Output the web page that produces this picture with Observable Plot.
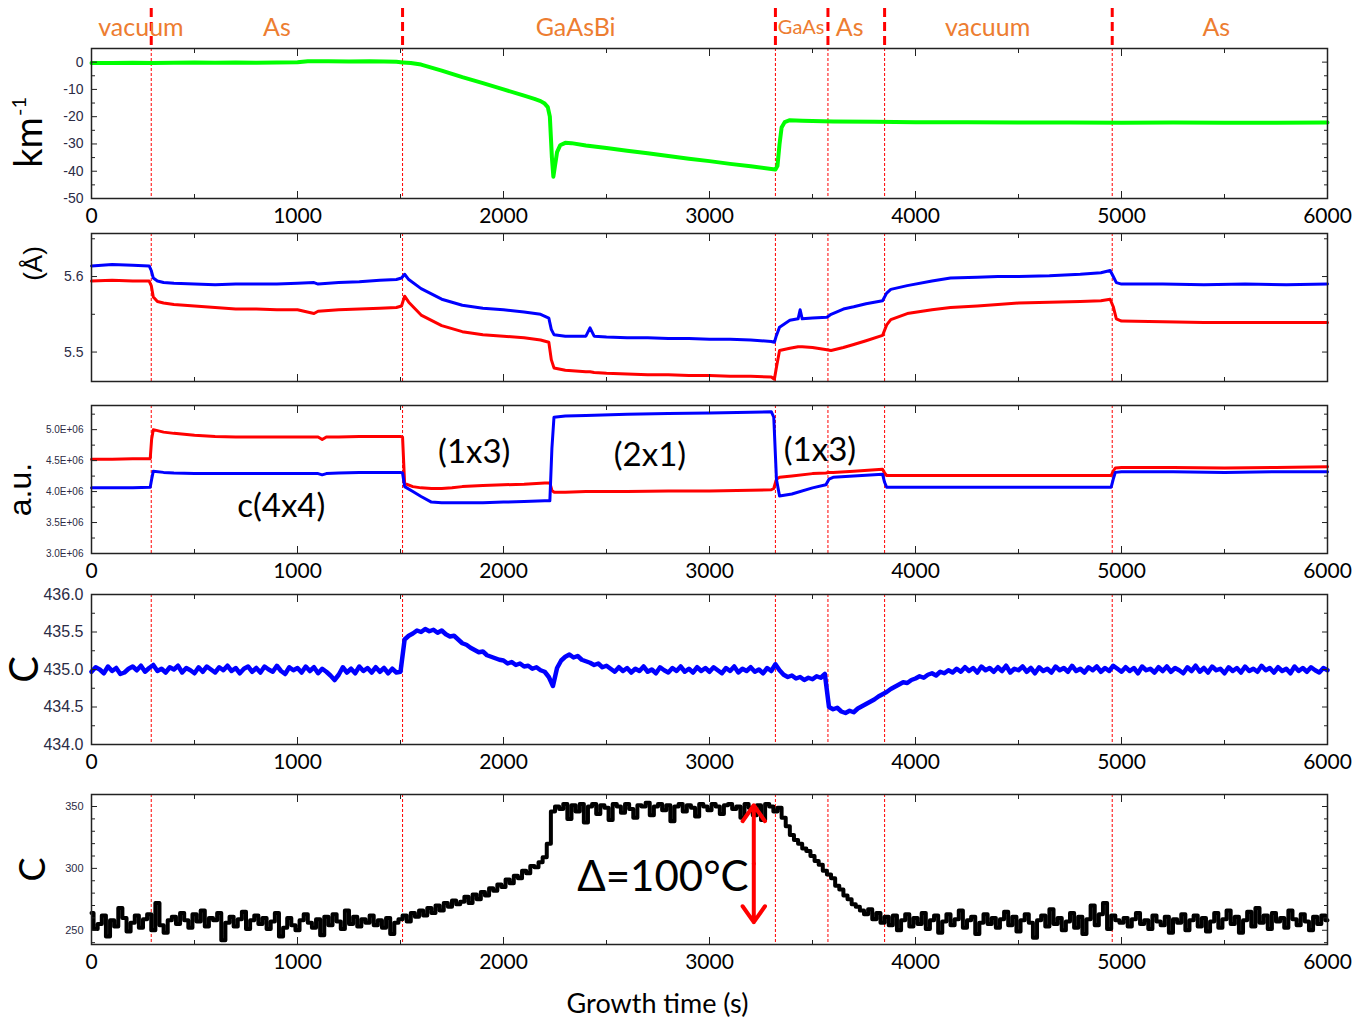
<!DOCTYPE html>
<html>
<head>
<meta charset="utf-8">
<script src="https://cdn.jsdelivr.net/npm/d3@7"></script>
<script src="https://cdn.jsdelivr.net/npm/@observablehq/plot@0.6"></script>
<style>
  body { margin: 0; background: #fff; }
  #chart { position: relative; width: 1353px; height: 1018px; overflow: hidden; }
  #chart svg { position: absolute; left: 0; overflow: visible; }
</style>
</head>
<body>
<div id="chart"></div>
<script>
// ---------------- DATA ----------------
const eventTimes = [290, 1510, 3320, 3575, 3850, 4955];
const phaseNames = ["vacuum", "As", "GaAsBi", "As", "vacuum", "As"];
const phaseCenters = [240, 900, 2350, 3680, 4350, 5460];
const smallPhaseNames = ["GaAs"];
const smallPhaseCenters = [3445];

const xMajorTicks = [0, 1000, 2000, 3000, 4000, 5000, 6000];
const xMinorTicks = [500, 1500, 2500, 3500, 4500, 5500];

// Panel 1: km^-1 (green)
const kmTime = [0, 100, 200, 300, 400, 500, 600, 700, 800, 900,
  1000, 1050, 1150, 1250, 1350, 1420, 1480, 1510, 1550, 1600,
  1650, 1700, 1750, 1800, 1850, 1900, 2000, 2100, 2150, 2180,
  2200, 2215, 2225, 2235, 2242, 2250, 2260, 2275, 2300, 2330,
  2400, 2500, 2600, 2700, 2800, 2900, 3000, 3100, 3200, 3300,
  3320, 3330, 3340, 3350, 3365, 3390, 3450, 3500, 3600, 3800,
  4000, 4250, 4500, 4750, 5000, 5250, 5500, 5750, 6000];
const kmValue = [-0.3, -0.3, -0.2, -0.3, -0.2, -0.1, -0.2, -0.1, -0.2, -0.1,
  0.0, 0.3, 0.3, 0.2, 0.3, 0.2, 0.1, -0.1, -0.3, -0.9,
  -2.0, -3.1, -4.3, -5.5, -6.6, -7.7, -10.0, -12.3, -13.5, -14.3,
  -15.2, -16.5, -20, -35, -42, -38, -33, -30.5, -29.6, -29.7,
  -30.6, -31.5, -32.5, -33.4, -34.4, -35.4, -36.3, -37.3, -38.2, -39.2,
  -39.4, -38, -30, -24, -22, -21.3, -21.5, -21.6, -21.8, -21.9,
  -22.0, -22.0, -22.1, -22.1, -22.2, -22.1, -22.2, -22.2, -22.1];
const kmTicks = [0, -10, -20, -30, -40, -50];
const kmMinorTicks = [-5, -15, -25, -35, -45];

// Panel 2: lattice spacing (Å), blue and red
const abTime = [0, 100, 200, 280, 290, 300, 320, 350, 400, 500,
  600, 700, 800, 900, 1000, 1080, 1100, 1200, 1300, 1400,
  1480, 1505, 1520, 1540, 1600, 1700, 1800, 1900, 2000, 2100,
  2180, 2220, 2232, 2245, 2300, 2400, 2420, 2440, 2500, 2600,
  2700, 2800, 2900, 3000, 3100, 3200, 3300, 3315, 3325, 3340,
  3390, 3430, 3440, 3450, 3500, 3570, 3590, 3650, 3700, 3760,
  3840, 3860, 3880, 3960, 4080, 4170, 4300, 4400, 4500, 4650,
  4800, 4900, 4945, 4960, 4975, 5000, 5200, 5400, 5600, 5800,
  6000];
const abBlue = [5.614, 5.616, 5.615, 5.614, 5.608, 5.598, 5.594, 5.592, 5.591, 5.590,
  5.589, 5.590, 5.590, 5.590, 5.591, 5.592, 5.590, 5.592, 5.593, 5.595,
  5.596, 5.598, 5.603, 5.596, 5.584, 5.570, 5.562, 5.558, 5.556, 5.553,
  5.550, 5.545, 5.530, 5.523, 5.521, 5.521, 5.532, 5.521, 5.520, 5.519,
  5.519, 5.518, 5.518, 5.517, 5.517, 5.516, 5.514, 5.513, 5.522, 5.533,
  5.542, 5.544, 5.556, 5.544, 5.545, 5.546, 5.550, 5.557, 5.560, 5.564,
  5.568, 5.578, 5.583, 5.588, 5.594, 5.598, 5.599, 5.600, 5.600, 5.601,
  5.603, 5.605, 5.608, 5.600, 5.592, 5.590, 5.590, 5.589, 5.590, 5.589,
  5.590];
const abRed = [5.594, 5.595, 5.594, 5.594, 5.588, 5.573, 5.567, 5.565, 5.563, 5.561,
  5.559, 5.557, 5.557, 5.556, 5.556, 5.551, 5.554, 5.556, 5.557, 5.558,
  5.559, 5.561, 5.574, 5.566, 5.549, 5.535, 5.527, 5.523, 5.521, 5.519,
  5.516, 5.513, 5.490, 5.479, 5.476, 5.474, 5.474, 5.473, 5.472, 5.471,
  5.470, 5.470, 5.469, 5.469, 5.468, 5.468, 5.467, 5.464, 5.480, 5.502,
  5.505, 5.507, 5.507, 5.507, 5.506, 5.503, 5.502, 5.506, 5.510, 5.515,
  5.522, 5.536, 5.543, 5.551, 5.556, 5.559, 5.561, 5.563, 5.565, 5.566,
  5.567, 5.568, 5.570, 5.560, 5.544, 5.541, 5.540, 5.539, 5.539, 5.539,
  5.539];
const abTicks = [5.5, 5.6];
const abMinorTicks = [5.55, 5.65];

// Panel 3: intensity (a.u., in units of 1E+06), red and blue
const auTime = [0, 100, 200, 285, 292, 300, 350, 400, 500, 600,
  700, 800, 900, 1000, 1100, 1120, 1140, 1200, 1300, 1400,
  1500, 1510, 1520, 1560, 1600, 1650, 1700, 1750, 1800, 1900,
  2000, 2100, 2200, 2225, 2235, 2245, 2300, 2400, 2600, 2800,
  3000, 3200, 3300, 3312, 3325, 3340, 3400, 3500, 3565, 3580,
  3600, 3700, 3840, 3850, 3860, 3900, 4200, 4500, 4800, 4950,
  4960, 4970, 5000, 5250, 5500, 5750, 6000];
const auRed = [4.52, 4.52, 4.53, 4.53, 4.85, 5.00, 4.96, 4.94, 4.91, 4.89,
  4.88, 4.88, 4.88, 4.88, 4.88, 4.84, 4.88, 4.88, 4.89, 4.89,
  4.89, 4.88, 4.13, 4.08, 4.06, 4.05, 4.05, 4.06, 4.08, 4.10,
  4.11, 4.12, 4.14, 4.14, 4.02, 3.99, 3.99, 4.00, 4.00, 4.01,
  4.01, 4.02, 4.03, 4.05, 4.20, 4.23, 4.25, 4.29, 4.30, 4.31,
  4.31, 4.33, 4.36, 4.30, 4.26, 4.26, 4.26, 4.26, 4.26, 4.26,
  4.33, 4.38, 4.39, 4.39, 4.38, 4.39, 4.40];
const auBlue = [4.06, 4.06, 4.06, 4.07, 4.20, 4.33, 4.31, 4.30, 4.29, 4.29,
  4.29, 4.29, 4.29, 4.29, 4.29, 4.27, 4.29, 4.30, 4.31, 4.31,
  4.31, 4.30, 4.08, 4.00, 3.92, 3.83, 3.82, 3.82, 3.82, 3.82,
  3.83, 3.84, 3.85, 3.85, 4.70, 5.20, 5.22, 5.23, 5.25, 5.26,
  5.27, 5.28, 5.29, 5.20, 4.20, 3.93, 3.96, 4.06, 4.11, 4.20,
  4.23, 4.25, 4.28, 4.15, 4.07, 4.07, 4.07, 4.07, 4.07, 4.07,
  4.20, 4.31, 4.32, 4.32, 4.31, 4.32, 4.32];
const auTicks = [3.0, 3.5, 4.0, 4.5, 5.0];
const auMinorTicks = [3.25, 3.75, 4.25, 4.75, 5.25];
const structNames = ["(1x3)", "(2x1)", "(1x3)", "c(4x4)"];
const structTimes = [1858, 2711, 3536, 921];
const structLevels = [4.63, 4.58, 4.66, 3.76];

// Panels 4 and 5 share the sampling times (every 20 s)
const sampleTimes = [
  0, 20, 40, 60, 80, 100, 120, 140, 160, 180,
  200, 220, 240, 260, 280, 300, 320, 340, 360, 380,
  400, 420, 440, 460, 480, 500, 520, 540, 560, 580,
  600, 620, 640, 660, 680, 700, 720, 740, 760, 780,
  800, 820, 840, 860, 880, 900, 920, 940, 960, 980,
  1000, 1020, 1040, 1060, 1080, 1100, 1120, 1140, 1160, 1180,
  1200, 1220, 1240, 1260, 1280, 1300, 1320, 1340, 1360, 1380,
  1400, 1420, 1440, 1460, 1480, 1500, 1520, 1540, 1560, 1580,
  1600, 1620, 1640, 1660, 1680, 1700, 1720, 1740, 1760, 1780,
  1800, 1820, 1840, 1860, 1880, 1900, 1920, 1940, 1960, 1980,
  2000, 2020, 2040, 2060, 2080, 2100, 2120, 2140, 2160, 2180,
  2200, 2220, 2240, 2260, 2280, 2300, 2320, 2340, 2360, 2380,
  2400, 2420, 2440, 2460, 2480, 2500, 2520, 2540, 2560, 2580,
  2600, 2620, 2640, 2660, 2680, 2700, 2720, 2740, 2760, 2780,
  2800, 2820, 2840, 2860, 2880, 2900, 2920, 2940, 2960, 2980,
  3000, 3020, 3040, 3060, 3080, 3100, 3120, 3140, 3160, 3180,
  3200, 3220, 3240, 3260, 3280, 3300, 3320, 3340, 3360, 3380,
  3400, 3420, 3440, 3460, 3480, 3500, 3520, 3540, 3560, 3580,
  3600, 3620, 3640, 3660, 3680, 3700, 3720, 3740, 3760, 3780,
  3800, 3820, 3840, 3860, 3880, 3900, 3920, 3940, 3960, 3980,
  4000, 4020, 4040, 4060, 4080, 4100, 4120, 4140, 4160, 4180,
  4200, 4220, 4240, 4260, 4280, 4300, 4320, 4340, 4360, 4380,
  4400, 4420, 4440, 4460, 4480, 4500, 4520, 4540, 4560, 4580,
  4600, 4620, 4640, 4660, 4680, 4700, 4720, 4740, 4760, 4780,
  4800, 4820, 4840, 4860, 4880, 4900, 4920, 4940, 4960, 4980,
  5000, 5020, 5040, 5060, 5080, 5100, 5120, 5140, 5160, 5180,
  5200, 5220, 5240, 5260, 5280, 5300, 5320, 5340, 5360, 5380,
  5400, 5420, 5440, 5460, 5480, 5500, 5520, 5540, 5560, 5580,
  5600, 5620, 5640, 5660, 5680, 5700, 5720, 5740, 5760, 5780,
  5800, 5820, 5840, 5860, 5880, 5900, 5920, 5940, 5960, 5980,
  6000];

// Panel 4: thermocouple temperature (C), blue
const tcValue = [
  434.97, 435.03, 435.00, 434.95, 435.04, 434.98, 435.02, 434.94, 434.96, 435.01,
  435.04, 434.99, 435.05, 434.97, 435.02, 435.06, 434.98, 435.01, 434.96, 435.03,
  435.00, 435.05, 434.96, 435.02, 434.99, 434.95, 435.03, 434.97, 435.04, 435.00,
  434.96, 435.03, 434.99, 435.05, 434.98, 435.02, 434.95, 435.01, 435.04, 434.97,
  435.02, 434.96, 435.04, 435.00, 434.97, 435.05, 434.98, 434.94, 435.03, 434.99,
  435.02, 434.96, 435.04, 434.98, 435.03, 434.95, 435.01, 434.97, 434.92, 434.86,
  434.93, 435.03, 434.96, 435.01, 434.95, 435.04, 434.98, 435.02, 434.96, 435.03,
  434.97, 435.02, 434.95, 435.01, 434.96, 434.97, 435.40, 435.45, 435.48, 435.52,
  435.50, 435.54, 435.51, 435.53, 435.49, 435.52, 435.47, 435.44, 435.45, 435.40,
  435.35, 435.33, 435.29, 435.26, 435.23, 435.24, 435.19, 435.17, 435.15, 435.13,
  435.12, 435.08, 435.10, 435.06, 435.08, 435.04, 435.05, 435.01, 435.03, 434.99,
  434.97, 434.90, 434.78, 435.02, 435.12, 435.17, 435.20, 435.16, 435.18, 435.13,
  435.11, 435.09, 435.06, 435.08, 435.03, 435.05, 435.01, 434.97, 435.03, 434.98,
  435.02, 434.96, 435.01, 434.98, 435.04, 434.97, 435.00, 434.95, 435.03, 434.99,
  434.96, 435.02, 434.98, 435.04, 434.97, 435.01, 434.96, 435.03, 434.98, 435.02,
  434.97, 435.03, 434.99, 434.95, 435.02, 434.98, 435.04, 434.96, 435.01, 434.98,
  435.03, 434.97, 435.00, 434.95, 435.02, 434.98, 435.07, 434.99, 434.93, 434.90,
  434.92, 434.88, 434.90, 434.86, 434.89, 434.87, 434.91, 434.89, 434.94, 434.50,
  434.47, 434.49, 434.44, 434.42, 434.45, 434.43, 434.48, 434.51, 434.54, 434.57,
  434.60, 434.64, 434.67, 434.70, 434.74, 434.77, 434.80, 434.83, 434.82, 434.86,
  434.88, 434.91, 434.89, 434.93, 434.95, 434.92, 434.97, 434.95, 434.99, 434.96,
  435.01, 434.97, 435.03, 434.98, 435.02, 434.96, 435.04, 434.99, 435.02, 434.97,
  435.03, 434.98, 435.05, 434.96, 435.01, 434.99, 435.04, 434.97, 435.02, 434.95,
  435.03, 434.98, 435.01, 434.96, 435.04, 434.99, 435.02, 434.97, 435.05, 434.98,
  435.01, 434.96, 435.03, 434.99, 435.04, 434.97, 435.02, 434.98, 435.05, 435.01,
  434.97, 435.03, 434.98, 435.02, 434.95, 435.04, 434.99, 435.01, 434.96, 435.03,
  434.98, 435.04, 434.97, 435.02, 434.99, 434.95, 435.03, 434.98, 435.05, 434.97,
  435.02, 434.96, 435.04, 434.99, 435.01, 434.95, 435.03, 434.98, 435.02, 434.96,
  435.04, 434.98, 435.01, 434.97, 435.05, 434.99, 435.02, 434.96, 435.03, 434.98,
  435.01, 434.95, 435.04, 434.98, 435.02, 434.97, 435.03, 434.99, 434.96, 435.02,
  434.99];
const tcTicks = [434.0, 434.5, 435.0, 435.5, 436.0];
const tcMinorTicks = [434.25, 434.75, 435.25, 435.75];

// Panel 5: surface temperature (C), black
const tsValue = [
  264, 251, 255, 262, 245, 258, 253, 268, 260, 249,
  256, 262, 252, 259, 263, 250, 272, 254, 248, 258,
  261, 255, 264, 258, 252, 263, 257, 266, 253, 260,
  258, 264, 242, 256, 261, 253, 259, 265, 251, 258,
  262, 255, 260, 251, 257, 264, 245, 252, 260, 254,
  250, 258, 263, 256, 252, 259, 246, 261, 254, 263,
  257, 251, 266, 255, 261, 253, 259, 256, 262, 254,
  258, 252, 260, 247, 256, 259, 262, 257, 264, 261,
  266, 262, 268, 264, 270, 266, 272, 269, 274, 271,
  273, 277, 272, 279, 275, 281, 278, 284, 282, 287,
  285, 291, 288, 294, 292, 298, 296, 302, 301, 305,
  309, 320, 346, 350, 348, 352, 340, 351, 346, 352,
  337, 350, 352, 344, 351, 349, 339, 352, 350, 345,
  352, 348, 341, 351, 350, 353, 343, 350, 352, 347,
  351, 338, 350, 352, 346, 351, 349, 342, 352, 350,
  347, 352, 350, 344, 351, 352, 348, 350, 341, 352,
  349, 343, 351, 339, 352, 350, 346, 349, 341, 334,
  327, 323, 320, 316, 314, 310, 306, 303, 298, 295,
  292, 286, 283, 278, 275, 271, 269, 266, 263, 267,
  259, 264, 256, 261, 254, 262, 250, 258, 263, 253,
  260, 255, 264, 251, 258, 262, 248, 257, 263, 254,
  259, 266, 252, 258, 261, 247, 256, 263, 255, 260,
  252, 259, 265, 254, 261, 249, 258, 263, 256, 244,
  258, 262, 253, 267, 255, 260, 250, 257, 264, 252,
  261, 247, 259, 270, 254, 263, 272, 251, 262, 258,
  256, 260, 253, 259, 264, 255, 258, 251, 262, 257,
  254, 261, 248, 259, 256, 263, 250, 258, 262, 253,
  260, 249, 257, 264, 252, 259, 266, 255, 261, 248,
  258, 265, 253, 268, 256, 262, 251, 264, 257, 260,
  252, 266, 259, 254, 263, 257, 250, 261, 255, 262,
  258];
const tsTicks = [250, 300, 350];
const tsMinorTicks = [240, 260, 270, 280, 290, 310, 320, 330, 340];
const deltaLabel = ["Δ=100°C"];
const deltaLabelTime = [2774];
const deltaLabelLevel = [292.7];
const arrowTime = [3215];
const arrowTop = [351];
const arrowBottom = [256.5];

// ---------------- BUILD ----------------
const pair = (ts, vs) => ts.map((t, i) => ({t, v: vs[i]})).filter(d => d.v !== undefined);
const W = 1353, ML = 91, MR = 26;
const SANS = "Lato, 'Open Sans', sans-serif";
const ARIAL = "'Liberation Sans', Arial, sans-serif";
const TICKCOL = "#2b2b45";
const chart = document.getElementById("chart");

function axes({yMajor, yMinor, yFmt, yFont, xLabels}) {
  const blank = () => "";
  return [
    Plot.frame({stroke: "#222", strokeWidth: 1.5}),
    Plot.axisX(xMajorTicks, {anchor: "bottom", tickSize: -7, tickPadding: 17, label: null,
      tickFormat: xLabels ? d => String(d) : blank, fontSize: 21, fontFamily: SANS, fill: "#000", stroke: "#222"}),
    Plot.axisX(xMinorTicks, {anchor: "bottom", tickSize: -4, label: null, tickFormat: blank, stroke: "#222"}),
    Plot.axisX(xMajorTicks, {anchor: "top", tickSize: -7, label: null, tickFormat: blank, stroke: "#222"}),
    Plot.axisX(xMinorTicks, {anchor: "top", tickSize: -4, label: null, tickFormat: blank, stroke: "#222"}),
    Plot.axisY(yMajor, {anchor: "left", tickSize: -6, tickPadding: 14, label: null,
      tickFormat: yFmt, fontSize: yFont, fontFamily: ARIAL, fill: TICKCOL, stroke: "#222"}),
    Plot.axisY(yMinor, {anchor: "left", tickSize: -4, label: null, tickFormat: blank, stroke: "#222"}),
    Plot.axisY(yMajor, {anchor: "right", tickSize: -6, label: null, tickFormat: blank, stroke: "#222"}),
    Plot.axisY(yMinor, {anchor: "right", tickSize: -4, label: null, tickFormat: blank, stroke: "#222"})
  ];
}

function panel({top, height, mt, mb, yDomain, marks, axisOpts}) {
  const svg = Plot.plot({
    width: W, height, marginTop: mt, marginBottom: mb, marginLeft: ML, marginRight: MR,
    style: {background: "transparent", overflow: "visible", fontFamily: ARIAL},
    x: {domain: [0, 6000]},
    y: {domain: yDomain},
    marks: [
      Plot.ruleX(eventTimes, {stroke: "#ff0000", strokeWidth: 1, strokeDasharray: "3,2"}),
      ...marks,
      ...axes(axisOpts)
    ]
  });
  svg.style.top = top + "px";
  chart.appendChild(svg);
}

const yTitle = (txt, dx, dy, size, family) =>
  Plot.text([txt], {frameAnchor: "left", textAnchor: "middle", lineAnchor: "middle", text: d => d,
    rotate: -90, dx, dy, fontSize: size, fontFamily: family, fill: "#000"});

// Panel 1
panel({
  top: 0, height: 225, mt: 48, mb: 27, yDomain: [-50, 5],
  axisOpts: {yMajor: kmTicks, yMinor: kmMinorTicks, yFmt: d => String(d), yFont: 14, xLabels: true},
  marks: [
    Plot.ruleX(eventTimes, {stroke: "#ff0000", strokeWidth: 3, strokeDasharray: "9,5", insetTop: -40, insetBottom: 150}),
    Plot.text(phaseNames, {x: (d, i) => phaseCenters[i], frameAnchor: "top", lineAnchor: "middle", dy: -21, text: d => d, fontSize: 25, fontFamily: SANS, fill: "#ED7D31"}),
    Plot.text(smallPhaseNames, {x: (d, i) => smallPhaseCenters[i], frameAnchor: "top", lineAnchor: "middle", dy: -21, text: d => d, fontSize: 20, fontFamily: SANS, fill: "#ED7D31"}),
    Plot.line(pair(kmTime, kmValue), {x: "t", y: "v", stroke: "#00ff00", strokeWidth: 4}),
    yTitle("km", -62, 19, 38, SANS),
    yTitle("-1", -72, -17, 20, SANS)
  ]
});

// Panel 2
panel({
  top: 225, height: 164, mt: 8, mb: 8, yDomain: [5.461, 5.657],
  axisOpts: {yMajor: abTicks, yMinor: abMinorTicks, yFmt: d => d.toFixed(1), yFont: 14, xLabels: false},
  marks: [
    Plot.line(pair(abTime, abBlue), {x: "t", y: "v", stroke: "#0000ff", strokeWidth: 3}),
    Plot.line(pair(abTime, abRed), {x: "t", y: "v", stroke: "#ff0000", strokeWidth: 3}),
    yTitle("(Å)", -58, -44, 26, ARIAL)
  ]
});

// Panel 3
panel({
  top: 389, height: 194, mt: 16, mb: 30, yDomain: [3.0, 5.39],
  axisOpts: {yMajor: auTicks, yMinor: auMinorTicks, yFmt: d => d.toFixed(1) + "E+06", yFont: 10, xLabels: true},
  marks: [
    Plot.line(pair(auTime, auRed), {x: "t", y: "v", stroke: "#ff0000", strokeWidth: 3}),
    Plot.line(pair(auTime, auBlue), {x: "t", y: "v", stroke: "#0000ff", strokeWidth: 3}),
    Plot.text(structNames, {x: (d, i) => structTimes[i], y: (d, i) => structLevels[i], text: d => d, fontSize: 33, fontFamily: SANS, fill: "#000"}),
    yTitle("a.u.", -71, 10, 32, ARIAL)
  ]
});

// Panel 4
panel({
  top: 583, height: 191, mt: 11, mb: 30, yDomain: [434, 436],
  axisOpts: {yMajor: tcTicks, yMinor: tcMinorTicks, yFmt: d => d.toFixed(1), yFont: 16, xLabels: true},
  marks: [
    Plot.line(pair(sampleTimes, tcValue), {x: "t", y: "v", stroke: "#0000ff", strokeWidth: 4.5}),
    yTitle("C", -66, 0, 40, SANS)
  ]
});

// Panel 5
panel({
  top: 774, height: 244, mt: 20, mb: 74, yDomain: [238.5, 359.7],
  axisOpts: {yMajor: tsTicks, yMinor: tsMinorTicks, yFmt: d => String(d), yFont: 11, xLabels: true},
  marks: [
    Plot.line(pair(sampleTimes, tsValue), {x: "t", y: "v", stroke: "#000", strokeWidth: 4, curve: "step"}),
    Plot.arrow(arrowTime, {x1: d => d, x2: d => d, y1: (d, i) => (arrowTop[i] + arrowBottom[i]) / 2, y2: (d, i) => arrowTop[i], stroke: "#ff0000", strokeWidth: 4, headLength: 9, headAngle: 70}),
    Plot.arrow(arrowTime, {x1: d => d, x2: d => d, y1: (d, i) => (arrowTop[i] + arrowBottom[i]) / 2, y2: (d, i) => arrowBottom[i], stroke: "#ff0000", strokeWidth: 4, headLength: 9, headAngle: 70}),
    Plot.text(deltaLabel, {x: (d, i) => deltaLabelTime[i], y: (d, i) => deltaLabelLevel[i], text: d => d, fontSize: 42, fontFamily: SANS, fill: "#000"}),
    Plot.text(["Growth time (s)"], {frameAnchor: "bottom", lineAnchor: "middle", dx: -52, dy: 60, text: d => d, fontSize: 27, fontFamily: SANS, fill: "#000"}),
    yTitle("C", -58, 0, 36, SANS)
  ]
});
</script>
</body>
</html>
